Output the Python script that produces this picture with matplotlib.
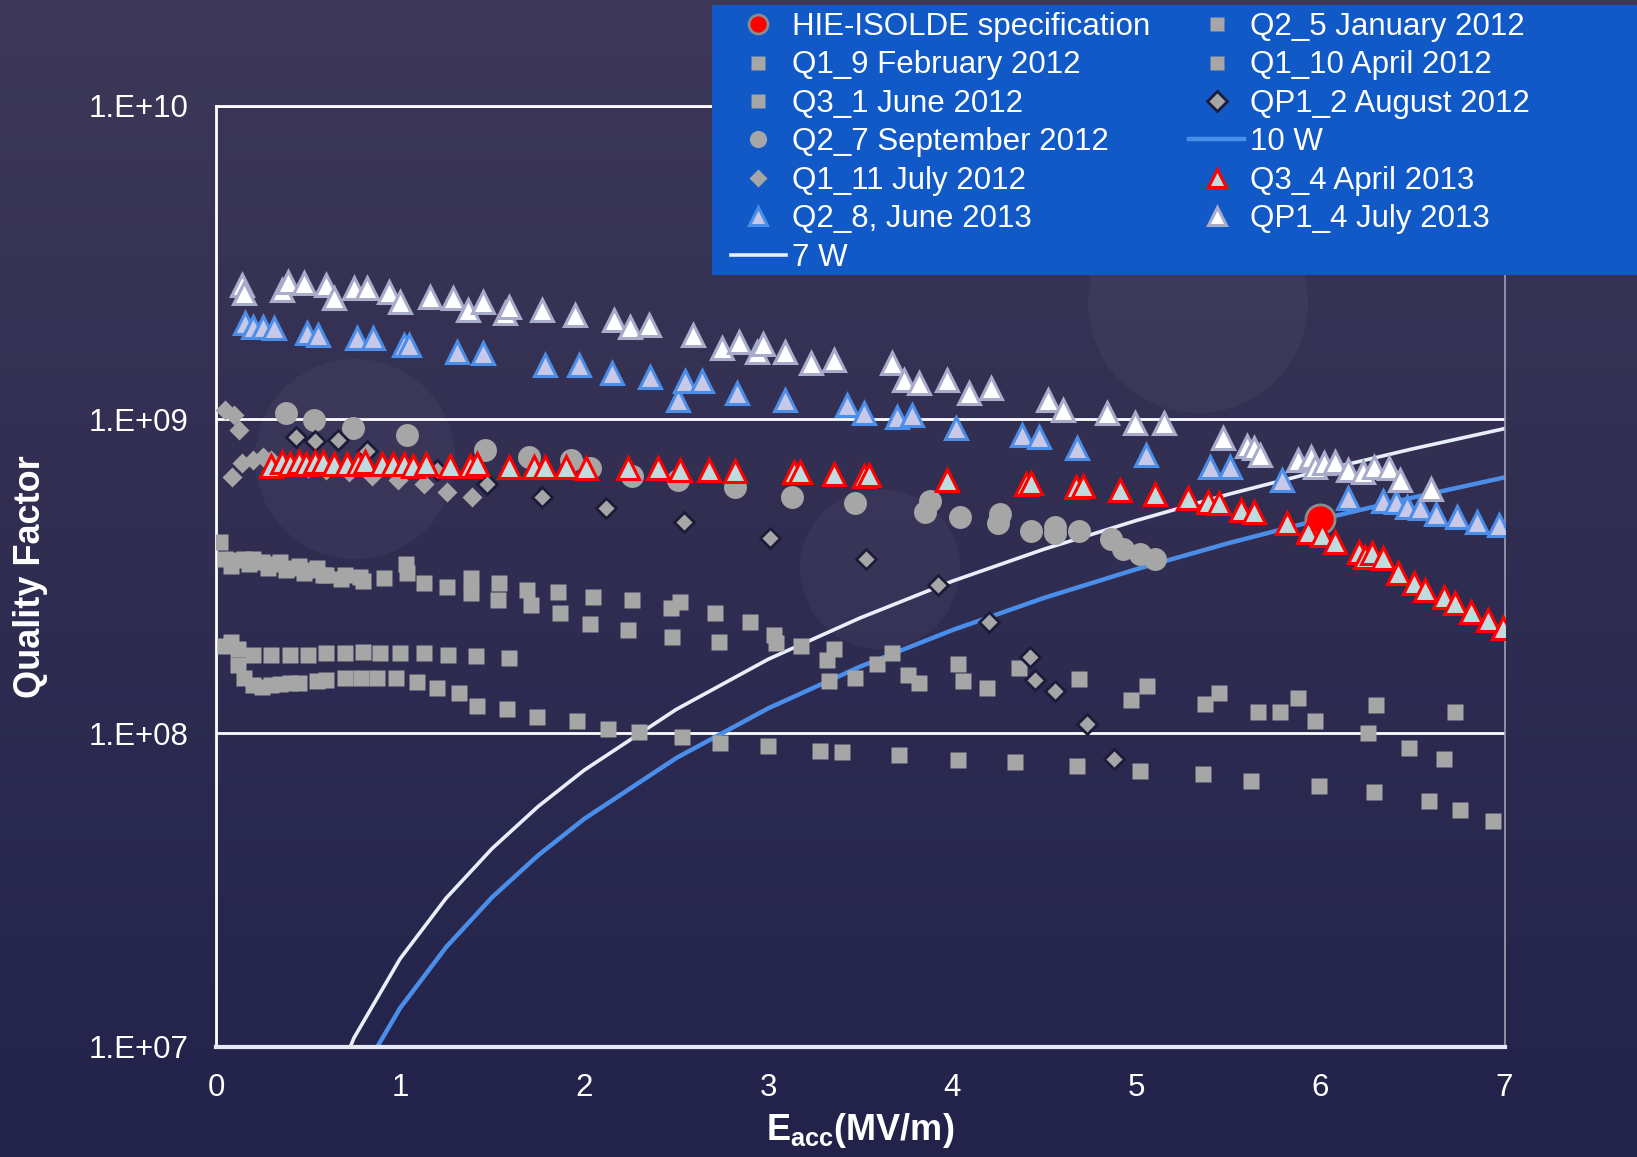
#!/usr/bin/env python3
import numpy as np
import matplotlib
matplotlib.use("Agg")
import matplotlib.pyplot as plt
from matplotlib.lines import Line2D
from matplotlib.patches import Circle, Rectangle

plt.rcParams['font.family'] = ['Liberation Sans', 'DejaVu Sans']
plt.rcParams['mathtext.fontset'] = 'custom'
plt.rcParams['mathtext.rm'] = 'Liberation Sans'
plt.rcParams['mathtext.bf'] = 'Liberation Sans:bold'

# ---- DATA: Eacc (MV/m) vs Q0 ----
spec_e = [6.0]
spec_q = [4.8e8]

# constant dissipated power curves
power_e = [0.5, 0.75, 1.0, 1.25, 1.5, 1.75, 2.0, 2.5, 3.0, 3.5, 4.0, 4.5, 5.0, 5.5, 6.0, 6.5, 7.0]
q_7w = [4.8e6, 1.07e7, 1.91e7, 2.98e7, 4.29e7, 5.84e7, 7.62e7, 1.19e8, 1.72e8, 2.33e8,
        3.05e8, 3.86e8, 4.76e8, 5.77e8, 6.86e8, 8.05e8, 9.34e8]
q_10w = [3.3e6, 7.5e6, 1.33e7, 2.08e7, 3.0e7, 4.08e7, 5.33e7, 8.33e7, 1.2e8, 1.63e8,
         2.13e8, 2.7e8, 3.33e8, 4.03e8, 4.8e8, 5.63e8, 6.53e8]

q2_5_e = [0.02, 0.05, 0.10, 0.15, 0.20, 0.25, 0.30, 0.35, 0.40, 0.45, 0.50, 0.55, 0.60, 0.70,
          0.80, 1.03, 1.385, 1.54, 1.69, 1.86, 2.05, 2.26, 2.52, 2.71, 2.90, 3.03, 3.18, 3.36,
          3.67, 4.03, 4.36, 4.69, 5.06, 5.45, 5.88, 6.30, 6.73]
q2_5_q = [4.06e8, 3.6e8, 3.55e8, 3.6e8, 3.6e8, 3.5e8, 3.45e8, 3.5e8, 3.35e8, 3.4e8, 3.3e8,
          3.35e8, 3.2e8, 3.2e8, 3.05e8, 3.45e8, 3.13e8, 3.02e8, 2.86e8, 2.82e8, 2.72e8, 2.66e8,
          2.62e8, 2.42e8, 2.26e8, 2.05e8, 1.89e8, 1.85e8, 1.8e8, 1.66e8, 1.61e8, 1.49e8, 1.41e8,
          1.34e8, 1.29e8, 1.23e8, 1.17e8]

q1_9_e = [0.08, 0.18, 0.28, 0.38, 0.48, 0.58, 0.68, 0.78, 0.91, 1.04, 1.13, 1.255, 1.385, 1.53,
          1.71, 1.87, 2.03, 2.24, 2.47, 2.48, 2.73, 3.04, 3.32, 3.33, 3.47, 3.59, 3.76, 3.82,
          4.06, 4.19, 4.97, 5.375, 5.66, 5.78, 5.97, 6.26, 6.48, 6.67]
q1_9_q = [3.4e8, 3.45e8, 3.35e8, 3.3e8, 3.25e8, 3.2e8, 3.1e8, 3.15e8, 3.13e8, 3.24e8, 3.0e8,
          2.92e8, 2.8e8, 2.66e8, 2.56e8, 2.42e8, 2.23e8, 2.13e8, 2.5e8, 2.02e8, 1.95e8, 1.94e8,
          1.71e8, 1.47e8, 1.5e8, 1.66e8, 1.53e8, 1.45e8, 1.47e8, 1.39e8, 1.28e8, 1.24e8, 1.17e8,
          1.17e8, 1.09e8, 1.0e8, 9.0e7, 8.3e7]

q1_10_e = [0.05, 0.08, 0.12, 0.2, 0.3, 0.4, 0.5, 0.6, 0.7, 0.8, 0.89, 1.0, 1.13, 1.26, 1.41, 1.59]
q1_10_q = [1.9e8, 1.95e8, 1.85e8, 1.78e8, 1.78e8, 1.78e8, 1.78e8, 1.8e8, 1.8e8, 1.82e8,
           1.8e8, 1.8e8, 1.8e8, 1.78e8, 1.76e8, 1.73e8]

q3_1_e = [0.12, 0.15, 0.2, 0.25, 0.3, 0.35, 0.4, 0.45, 0.55, 0.6, 0.7, 0.79, 0.875, 0.98, 1.09,
          1.20, 1.32, 1.42, 1.58, 1.745, 1.96, 2.13, 2.30, 2.53, 2.74, 3.0, 3.28, 3.40, 3.71,
          4.03, 4.34, 4.68, 5.02, 5.36, 5.625, 5.99, 6.29, 6.59, 6.76, 6.94]
q3_1_q = [1.65e8, 1.5e8, 1.42e8, 1.4e8, 1.42e8, 1.43e8, 1.45e8, 1.45e8, 1.47e8, 1.48e8, 1.5e8,
          1.5e8, 1.5e8, 1.5e8, 1.46e8, 1.39e8, 1.34e8, 1.22e8, 1.19e8, 1.13e8, 1.09e8, 1.03e8,
          1.01e8, 9.7e7, 9.3e7, 9.1e7, 8.8e7, 8.7e7, 8.5e7, 8.2e7, 8.1e7, 7.85e7, 7.6e7, 7.4e7,
          7.05e7, 6.8e7, 6.5e7, 6.1e7, 5.7e7, 5.25e7]

q2_7_e = [0.38, 0.53, 0.745, 1.04, 1.46, 1.70, 1.93, 2.03, 2.26, 2.51, 2.82, 3.13, 3.47, 3.85,
          3.88, 4.04, 4.25, 4.26, 4.43, 4.56, 4.56, 4.69, 4.86, 4.93, 5.02, 5.10]
q2_7_q = [1.05e9, 9.95e8, 9.4e8, 8.9e8, 8.0e8, 7.6e8, 7.4e8, 7.0e8, 6.6e8, 6.4e8, 6.1e8, 5.65e8,
          5.4e8, 5.07e8, 5.5e8, 4.9e8, 4.68e8, 5.0e8, 4.4e8, 4.54e8, 4.35e8, 4.4e8, 4.16e8,
          3.86e8, 3.72e8, 3.59e8]

q1_11_e = [0.05, 0.10, 0.125, 0.087, 0.14, 0.20, 0.255, 0.30, 0.40, 0.50, 0.60, 0.72, 0.85,
           0.99, 1.13, 1.255, 1.39]
q1_11_q = [1.07e9, 1.03e9, 9.25e8, 6.55e8, 7.26e8, 7.41e8, 7.6e8, 7.4e8, 7.2e8, 7.0e8, 6.9e8,
           6.8e8, 6.6e8, 6.4e8, 6.2e8, 5.86e8, 5.65e8]

qp1_2_e = [0.435, 0.54, 0.665, 0.82, 1.20, 1.47, 1.77, 2.12, 2.54, 3.01, 3.53, 3.92, 4.20,
           4.42, 4.45, 4.56, 4.73, 4.88]
qp1_2_q = [8.8e8, 8.5e8, 8.6e8, 7.9e8, 6.9e8, 6.2e8, 5.65e8, 5.2e8, 4.7e8, 4.2e8, 3.6e8, 2.97e8,
           2.26e8, 1.75e8, 1.48e8, 1.36e8, 1.07e8, 8.3e7]

q3_4_e = [0.30, 0.36, 0.40, 0.45, 0.49, 0.54, 0.58, 0.64, 0.71, 0.77, 0.81, 0.90, 0.96, 1.02,
          1.07, 1.14, 1.27, 1.38, 1.42, 1.59, 1.73, 1.79, 1.90, 2.01, 2.24, 2.40, 2.52, 2.68,
          2.82, 3.14, 3.17, 3.36, 3.52, 3.55, 3.97, 4.40, 4.43, 4.67, 4.71, 4.91, 5.10, 5.28,
          5.39, 5.45, 5.57, 5.64, 5.82, 5.93, 6.01, 6.08, 6.21, 6.24, 6.28, 6.34, 6.42, 6.51,
          6.57, 6.67, 6.73, 6.82, 6.91, 6.99]
q3_4_q = [7.1e8, 7.3e8, 7.2e8, 7.3e8, 7.2e8, 7.3e8, 7.3e8, 7.2e8, 7.2e8, 7.2e8, 7.3e8, 7.2e8,
          7.2e8, 7.2e8, 7.1e8, 7.2e8, 7.1e8, 7.1e8, 7.2e8, 7.05e8, 7.05e8, 7.05e8, 7.05e8, 7.0e8,
          7.0e8, 7.0e8, 6.9e8, 6.9e8, 6.85e8, 6.8e8, 6.8e8, 6.7e8, 6.6e8, 6.65e8, 6.4e8, 6.2e8,
          6.25e8, 6.1e8, 6.15e8, 5.96e8, 5.8e8, 5.6e8, 5.45e8, 5.4e8, 5.14e8, 5.07e8, 4.68e8,
          4.38e8, 4.28e8, 4.06e8, 3.78e8, 3.64e8, 3.75e8, 3.61e8, 3.24e8, 3.0e8, 2.86e8, 2.72e8,
          2.6e8, 2.43e8, 2.29e8, 2.16e8]

q2_8_e = [0.158, 0.20, 0.255, 0.315, 0.495, 0.554, 0.766, 0.853, 1.02, 1.05, 1.31, 1.45, 1.79,
          1.97, 2.15, 2.36, 2.51, 2.55, 2.64, 2.83, 3.09, 3.43, 3.52, 3.70, 3.78, 4.02, 4.38,
          4.47, 4.68, 5.05, 5.40, 5.51, 5.79, 6.15, 6.34, 6.41, 6.47, 6.54, 6.63, 6.74, 6.85, 6.97]
q2_8_q = [2.03e9, 1.97e9, 1.97e9, 1.95e9, 1.88e9, 1.86e9, 1.82e9, 1.82e9, 1.73e9, 1.73e9,
          1.64e9, 1.63e9, 1.49e9, 1.49e9, 1.41e9, 1.36e9, 1.15e9, 1.32e9, 1.32e9, 1.21e9, 1.15e9,
          1.11e9, 1.05e9, 1.02e9, 1.03e9, 9.4e8, 8.9e8, 8.8e8, 8.1e8, 7.7e8, 7.05e8, 7.05e8,
          6.4e8, 5.6e8, 5.5e8, 5.45e8, 5.25e8, 5.2e8, 5.0e8, 4.9e8, 4.7e8, 4.6e8]

qp1_4_e = [0.14, 0.15, 0.36, 0.39, 0.48, 0.60, 0.64, 0.75, 0.82, 0.94, 1.00, 1.16, 1.29, 1.37,
           1.45, 1.57, 1.59, 1.77, 1.95, 2.16, 2.25, 2.35, 2.59, 2.75, 2.84, 2.94, 2.97, 3.09,
           3.23, 3.36, 3.67, 3.74, 3.82, 3.97, 4.09, 4.21, 4.52, 4.60, 4.84, 4.99, 5.15, 5.47,
           5.60, 5.64, 5.67, 5.88, 5.95, 5.97, 6.02, 6.08, 6.15, 6.23, 6.29, 6.37, 6.43, 6.60]
qp1_4_q = [2.68e9, 2.53e9, 2.58e9, 2.74e9, 2.72e9, 2.68e9, 2.44e9, 2.62e9, 2.62e9, 2.55e9,
           2.37e9, 2.45e9, 2.44e9, 2.23e9, 2.37e9, 2.18e9, 2.28e9, 2.23e9, 2.15e9, 2.07e9,
           1.97e9, 2.0e9, 1.86e9, 1.69e9, 1.76e9, 1.64e9, 1.74e9, 1.64e9, 1.51e9, 1.55e9, 1.51e9,
           1.33e9, 1.31e9, 1.33e9, 1.21e9, 1.26e9, 1.15e9, 1.07e9, 1.05e9, 9.7e8, 9.7e8, 8.7e8,
           8.2e8, 8.1e8, 7.7e8, 7.4e8, 7.6e8, 7.05e8, 7.25e8, 7.3e8, 6.9e8, 6.8e8, 7.05e8, 7.0e8,
           6.4e8, 6.0e8]

y_ticks = [1e7, 1e8, 1e9, 1e10]
y_ticklabels = ["1.E+07", "1.E+08", "1.E+09", "1.E+10"]

# ---- STYLES ----
GRAY = '#A6A6A6'
styles = {
    'spec':  dict(marker='o', ms=21, mfc='#FF0000', mec='#8C8C8C', mew=2, ls='none'),
    'sq':    dict(marker='s', ms=11.5, mfc=GRAY, mec='none', ls='none'),
    'circ':  dict(marker='o', ms=16.5, mfc=GRAY, mec='none', ls='none'),
    'dia':   dict(marker='D', ms=10, mfc=GRAY, mec='none', ls='none'),
    'diae':  dict(marker='D', ms=10, mfc=GRAY, mec='#1C1C3A', mew=2, ls='none'),
    'red':   dict(marker='^', ms=16, mfc='#BFDCDE', mec='#FF0000', mew=2.2, ls='none'),
    'blue':  dict(marker='^', ms=16, mfc='#C8C8E8', mec='#4A8EEA', mew=2.2, ls='none'),
    'white': dict(marker='^', ms=16, mfc='#FFFFFF', mec='#A8ACCA', mew=2.2, ls='none'),
    'l10':   dict(color='#4A8EEA', lw=3.2),
    'l7':    dict(color='#E8EEFA', lw=2.6),
}

W, H = 1637, 1157
fig = plt.figure(figsize=(W / 100, H / 100), dpi=100)

# background gradient with soft light spots
bg = fig.add_axes([0, 0, 1, 1], zorder=-10)
top = np.array([0x3d, 0x38, 0x58]) / 255
bot = np.array([0x22, 0x22, 0x4b]) / 255
t = np.linspace(0, 1, 256)[:, None, None]
grad = top * (1 - t) + bot * t
grad = np.repeat(grad, 2, axis=1)
bg.imshow(grad, aspect='auto', extent=[0, W, H, 0])
for cx, cy, r in [(355, 459, 100), (880, 569, 80), (1198, 303, 110)]:
    bg.add_patch(Circle((cx, cy), r, color='white', alpha=0.035, lw=0))
bg.set_xlim(0, W)
bg.set_ylim(H, 0)
bg.axis('off')

ax = fig.add_axes([216 / W, 1 - 1047 / H, (1504.5 - 216) / W, (1047 - 105.5) / H])
ax.patch.set_alpha(0)
ax.set_yscale('log')
ax.set_xlim(0, 7)
ax.set_ylim(1e7, 1e10)

ax.plot(power_e, q_10w, zorder=2, **styles['l10'])
ax.plot(power_e, q_7w, zorder=2, **styles['l7'])

ax.plot(spec_e, spec_q, zorder=3, **styles['spec'])
for e, q in [(q2_5_e, q2_5_q), (q1_9_e, q1_9_q), (q3_1_e, q3_1_q), (q1_10_e, q1_10_q)]:
    ax.plot(e, q, zorder=3, **styles['sq'])
ax.plot(q2_7_e, q2_7_q, zorder=4, **styles['circ'])
ax.plot(q1_11_e, q1_11_q, zorder=4, **styles['dia'])
ax.plot(qp1_2_e, qp1_2_q, zorder=5, **styles['diae'])
ax.plot(q3_4_e, q3_4_q, zorder=6, **styles['red'])
ax.plot(q2_8_e, q2_8_q, zorder=7, **styles['blue'])
ax.plot(qp1_4_e, qp1_4_q, zorder=8, **styles['white'])

ax.set_yticks(y_ticks)
ax.set_yticklabels(y_ticklabels)
ax.yaxis.set_minor_locator(matplotlib.ticker.NullLocator())
ax.set_xticks(range(8))
ax.tick_params(axis='both', length=0, colors='white', labelsize=22.5)
ax.tick_params(axis='y', pad=20)
ax.tick_params(axis='x', pad=19)
ax.grid(True, axis='y', which='major', color='white', lw=2)
ax.set_axisbelow(True)

for side in ['left', 'top']:
    ax.spines[side].set_color('white')
    ax.spines[side].set_linewidth(2)
ax.spines['bottom'].set_color('#E8E8F0')
ax.spines['bottom'].set_linewidth(3)
ax.spines['right'].set_color('#A0A0B4')
ax.spines['right'].set_linewidth(1.2)

ax.set_ylabel("Quality Factor", color='white', fontsize=26, fontweight='bold', va='center')
ax.yaxis.set_label_coords(-0.1436, 0.5)
ax.set_xlabel(r'$\mathbf{E}_{\mathbf{acc}}$(MV/m)', color='white', fontsize=26,
              fontweight='bold', va='center')
ax.xaxis.set_label_coords(0.5, -0.089)

# legend panel sits on top of the plot area
fig.add_artist(Rectangle((712 / W, 1 - 275 / H), (W - 712) / W, 270 / H,
                         transform=fig.transFigure, color='#1059C6', lw=0, zorder=10))

# ---- legend (column-major order) ----
def handle(key, scale=0.85):
    st = dict(styles[key])
    if 'ms' in st:
        st['ms'] = st['ms'] * scale
    return Line2D([], [], **st)

handles = [handle('spec', 0.65), handle('sq'), handle('sq'), handle('circ', 0.75),
           handle('dia', 0.9), handle('blue', 0.8), handle('l7'),
           handle('sq'), handle('sq'), handle('diae', 1.0), handle('l10'), handle('red', 0.8),
           handle('white', 0.8)]
labels = ["HIE-ISOLDE specification", "Q1_9 February 2012", "Q3_1 June 2012",
          "Q2_7 September 2012", "Q1_11 July 2012", "Q2_8, June 2013", "7 W",
          "Q2_5 January 2012", "Q1_10 April 2012", "QP1_2 August 2012", "10 W",
          "Q3_4 April 2013", "QP1_4 July 2013"]
leg = fig.legend(handles, labels, loc='upper left', bbox_to_anchor=(731 / W, 1 - 12 / H),
                 bbox_transform=fig.transFigure, ncol=2, frameon=False, fontsize=22.5,
                 labelcolor='white', handlelength=1.75, handletextpad=0.2,
                 columnspacing=1.25, labelspacing=0.27, borderpad=0, borderaxespad=0)
leg.set_zorder(20)

fig.savefig("out.png", dpi=100)
